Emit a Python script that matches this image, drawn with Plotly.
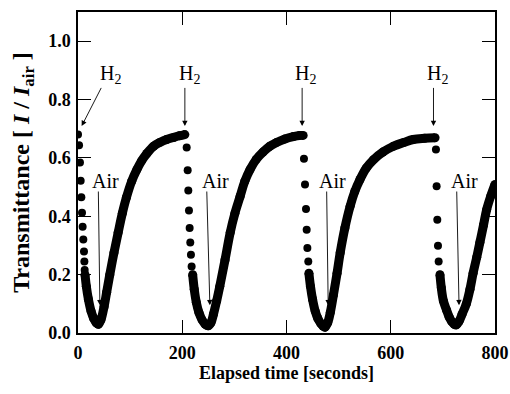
import plotly.graph_objects as go

# ---- data ----
# sparse descent dots right after H2 injection
c1_dot_t = [0, 2, 3.8, 5.1, 6.4, 7.7, 8.9, 10.2, 11.5, 12.2, 12.8]
c1_dot_v = [0.68, 0.643, 0.584, 0.522, 0.465, 0.412, 0.364, 0.32, 0.279, 0.245, 0.216]
c2_dot_t = [208.5, 210.4, 211.6, 212.9, 214.2, 215.4, 216.7, 218.0, 219.9]
c2_dot_v = [0.636, 0.558, 0.488, 0.42, 0.36, 0.31, 0.268, 0.228, 0.2]
c3_dot_t = [433.5, 435.5, 437.4, 438.7, 440.0, 441.8, 443.0]
c3_dot_v = [0.597, 0.509, 0.425, 0.354, 0.291, 0.245, 0.205]
c4_dot_t = [686.7, 688.0, 689.3, 690.6, 691.9, 694.4]
c4_dot_v = [0.629, 0.503, 0.388, 0.299, 0.245, 0.2]

# dense parts (minimum and recovery)
c1_band_t = [13.5, 16, 20, 25, 30, 35, 39, 44, 50, 55, 61, 69, 77, 85, 93, 103, 113, 122, 132, 145, 157, 170, 183, 195, 205]
c1_band_v = [0.2, 0.16, 0.115, 0.075, 0.05, 0.035, 0.03, 0.045, 0.09, 0.14, 0.2, 0.275, 0.344, 0.41, 0.465, 0.52, 0.56, 0.59, 0.615, 0.64, 0.653, 0.663, 0.67, 0.676, 0.68]
c2_band_t = [220, 223, 227, 232, 238, 244, 250, 255, 260, 266, 272, 282, 292, 301, 311, 320, 330, 342, 355, 368, 381, 397, 413, 425, 432]
c2_band_v = [0.2, 0.15, 0.105, 0.07, 0.045, 0.03, 0.025, 0.035, 0.065, 0.11, 0.16, 0.25, 0.344, 0.41, 0.468, 0.52, 0.56, 0.595, 0.62, 0.64, 0.653, 0.665, 0.673, 0.677, 0.677]
c3_band_t = [443, 446, 450, 455, 460, 466, 470, 474, 479, 484, 490, 497, 503, 512, 522, 531, 541, 553, 567, 585, 605, 625, 643, 665, 685]
c3_band_v = [0.205, 0.16, 0.115, 0.075, 0.05, 0.032, 0.024, 0.02, 0.035, 0.07, 0.13, 0.205, 0.275, 0.36, 0.434, 0.485, 0.526, 0.565, 0.594, 0.62, 0.64, 0.653, 0.663, 0.667, 0.669]
c4_band_t = [694.4, 697, 701, 707, 712, 717, 722, 726, 731, 737, 745, 752, 758, 765, 771, 778, 784, 792, 800]
c4_band_v = [0.2, 0.155, 0.11, 0.079, 0.055, 0.039, 0.03, 0.028, 0.04, 0.065, 0.1, 0.15, 0.205, 0.26, 0.31, 0.37, 0.423, 0.47, 0.509]

# annotation anchors: (label x, arrow tip x, arrow tail x)
h2_label_t = [63, 213, 437, 690]
h2_tip_t = [7, 205, 430, 682]
h2_tail_t = [46, 205, 430, 682]
air_label_t = [52, 263, 488, 741]
air_tip_t = [42, 253, 480, 731]
air_tail_t = [39, 247, 477, 726.5]

x_ticks = [0, 200, 400, 600, 800]
y_ticks = [0.0, 0.2, 0.4, 0.6, 0.8, 1.0]
x_title = "Elapsed time [seconds]"

fig = go.Figure()
dots_t = [c1_dot_t, c2_dot_t, c3_dot_t, c4_dot_t]
dots_v = [c1_dot_v, c2_dot_v, c3_dot_v, c4_dot_v]
bands_t = [c1_band_t, c2_band_t, c3_band_t, c4_band_t]
bands_v = [c1_band_v, c2_band_v, c3_band_v, c4_band_v]
for bt, bv in zip(bands_t, bands_v):
    fig.add_trace(go.Scatter(x=bt, y=bv, mode="lines+markers",
                             line=dict(color="black", width=9, shape="spline"),
                             marker=dict(color="black", size=9),
                             showlegend=False, hoverinfo="skip", cliponaxis=True))
for dt, dv in zip(dots_t, dots_v):
    fig.add_trace(go.Scatter(x=dt, y=dv, mode="markers",
                             marker=dict(color="black", size=8),
                             showlegend=False, hoverinfo="skip"))

ann_font = dict(family="Liberation Serif", size=20, color="black")
anns = []
for lt, tip, tail in zip(h2_label_t, h2_tip_t, h2_tail_t):
    anns.append(dict(x=lt, y=0.885, xref="x", yref="y", text="H<sub>2</sub>",
                     showarrow=False, font=ann_font))
    anns.append(dict(x=tip, y=0.709, ax=tail, ay=0.845, xref="x", yref="y",
                     axref="x", ayref="y", text="", showarrow=True,
                     arrowhead=2, arrowsize=1.2, arrowwidth=0.9, arrowcolor="black"))
for lt, tip, tail in zip(air_label_t, air_tip_t, air_tail_t):
    anns.append(dict(x=lt, y=0.522, xref="x", yref="y", text="Air",
                     showarrow=False, font=ann_font))
    anns.append(dict(x=tip, y=0.095, ax=tail, ay=0.49, xref="x", yref="y",
                     axref="x", ayref="y", text="", showarrow=True,
                     arrowhead=2, arrowsize=1.2, arrowwidth=0.9, arrowcolor="black"))
# x-axis title
anns.append(dict(x=0.5, y=-0.124, xref="paper", yref="paper", xanchor="center",
                 yanchor="middle", text=f"<b>{x_title}</b>", showarrow=False,
                 borderpad=0,
                 font=dict(family="Liberation Serif", size=18, color="black")))

axis_common = dict(showline=True, linecolor="black", linewidth=1.5, mirror="ticks",
                   ticks="inside", ticklen=13, tickwidth=1.2, tickcolor="black",
                   showgrid=False, zeroline=False, automargin=False,
                   tickfont=dict(family="Liberation Serif", size=18, color="black"))

fig.update_layout(
    width=510, height=394,
    margin=dict(l=78, r=15, t=12, b=61),
    paper_bgcolor="white", plot_bgcolor="white",
    annotations=anns,
    xaxis=dict(range=[0, 800], tickvals=x_ticks,
               ticktext=[f"<b>{v}</b>" for v in x_ticks],
               ticklabelstandoff=3,
               **axis_common),
    yaxis=dict(range=[0, 1.1], tickvals=y_ticks,
               ticktext=[f"<b>{v:.1f}</b>" for v in y_ticks],
               ticklabelstandoff=2,
               title=dict(text="<b>Transmittance [ <i>I</i> / <i>I</i><sub>air</sub> ]</b>",
                          font=dict(family="Liberation Serif", size=24, color="black"),
                          standoff=12),
               **axis_common),
)

fig.write_html("out.html")
